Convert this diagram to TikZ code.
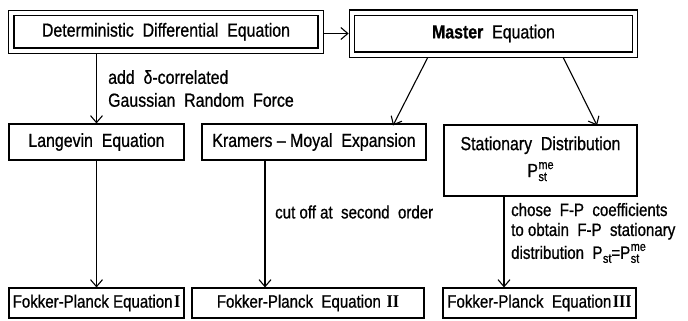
\documentclass[tikz,border=0pt]{standalone}
\usepackage{fontspec}
\setmainfont{Liberation Sans}[FakeStretch=0.84,FakeBold=0.8]
\newfontfamily\numfont{Liberation Serif}[FakeStretch=0.9]
\usetikzlibrary{arrows.meta}
\newcommand\rn[1]{\kern1.5bp{\numfont\bfseries #1}}
\newcommand\pme{P\kern0.5bp\raisebox{-4bp}{\fontsize{13}{12}\selectfont\begin{tabular}[b]{@{}l@{}}me\\st\end{tabular}}}
\newcommand\pst{P\kern0.5bp\raisebox{-4bp}{\fontsize{13}{12}\selectfont st}}
\begin{document}
\begin{tikzpicture}[x=1bp,y=-1bp,
  font=\fontsize{19}{22}\selectfont,
  box/.style={draw, line width=1.1bp, inner sep=0pt},
  dbox/.style={draw, double, double distance=4bp, line width=1.1bp, inner sep=0pt},
  fpbox/.style={box, minimum height=30bp, font=\fontsize{18}{20}\selectfont},
  arr/.style={line width=1.1bp, -{Straight Barb[length=7bp,width=12bp,line width=1.1bp]}},
  lbl/.style={anchor=west, align=left, inner sep=0pt}]
\useasboundingbox (0,0) rectangle (688,320);
% boxes
\node[dbox, minimum width=309bp, minimum height=37.5bp] (det) at (166,31.75) {Deterministic\ \ Differential\ \ Equation};
\node[dbox, minimum width=283bp, minimum height=42bp] (me) at (493.5,33.5) {\textbf{Master}\ \ Equation};
\node[box, minimum width=175bp, minimum height=36bp] (lang) at (96.5,142) {Langevin\ \ Equation};
\node[box, minimum width=224bp, minimum height=36bp] (kram) at (314,142) {Kramers -- Moyal\ \ Expansion};
\node[box, minimum width=193bp, minimum height=71bp, align=center] (stat) at (540.5,160.5) {Stationary\ \ Distribution\\[5bp] \pme};
\node[fpbox, minimum width=175bp] (fp1) at (96.5,303) {Fokker-Planck Equation\rn{I}};
\node[fpbox, minimum width=232bp] (fp2) at (308,303) {Fokker-Planck\ \ Equation\ \rn{II}};
\node[fpbox, minimum width=193bp] (fp3) at (539.5,303) {Fokker-Planck\ \ Equation\rn{III}};
% labels
\node[lbl, font=\fontsize{19}{23}\selectfont] (l1) at (108,88.5) {add\ \ δ-correlated\\Gaussian\ \ Random\ \ Force};
\node[lbl, font=\fontsize{18}{20}\selectfont] (l2) at (275,212) {cut off at\ \ second\ \ order};
\node[lbl, font=\fontsize{18}{20}\selectfont] (l3) at (511,233) {chose\ \ F-P\ \ coefficients\\to obtain\ \ F-P\ \ stationary\\[3bp]distribution\ \ \pst=\smash{\pme}};
% connectors
\draw[arr, shorten <=2.8bp, shorten >=2.8bp] (det.east |- me.west) -- (me.west);
\draw[arr, shorten <=2.8bp] (det.south -| lang.north) -- (lang.north);
\draw[arr, shorten <=2.8bp] ([xshift=-64.5bp]me.south) -- ([xshift=79bp,yshift=-2bp]kram.north);
\draw[arr, shorten <=2.8bp] ([xshift=68.5bp]me.south) -- ([xshift=56.5bp,yshift=-1bp]stat.north);
\draw[arr] (lang.south) -- (fp1.north);
\draw[arr] ([xshift=-49bp]kram.south) -- ([xshift=-49bp]kram.south |- fp2.north);
\draw[arr] ([xshift=-36.5bp]stat.south) -- ([xshift=-36.5bp]stat.south |- fp3.north);
\end{tikzpicture}
\end{document}
